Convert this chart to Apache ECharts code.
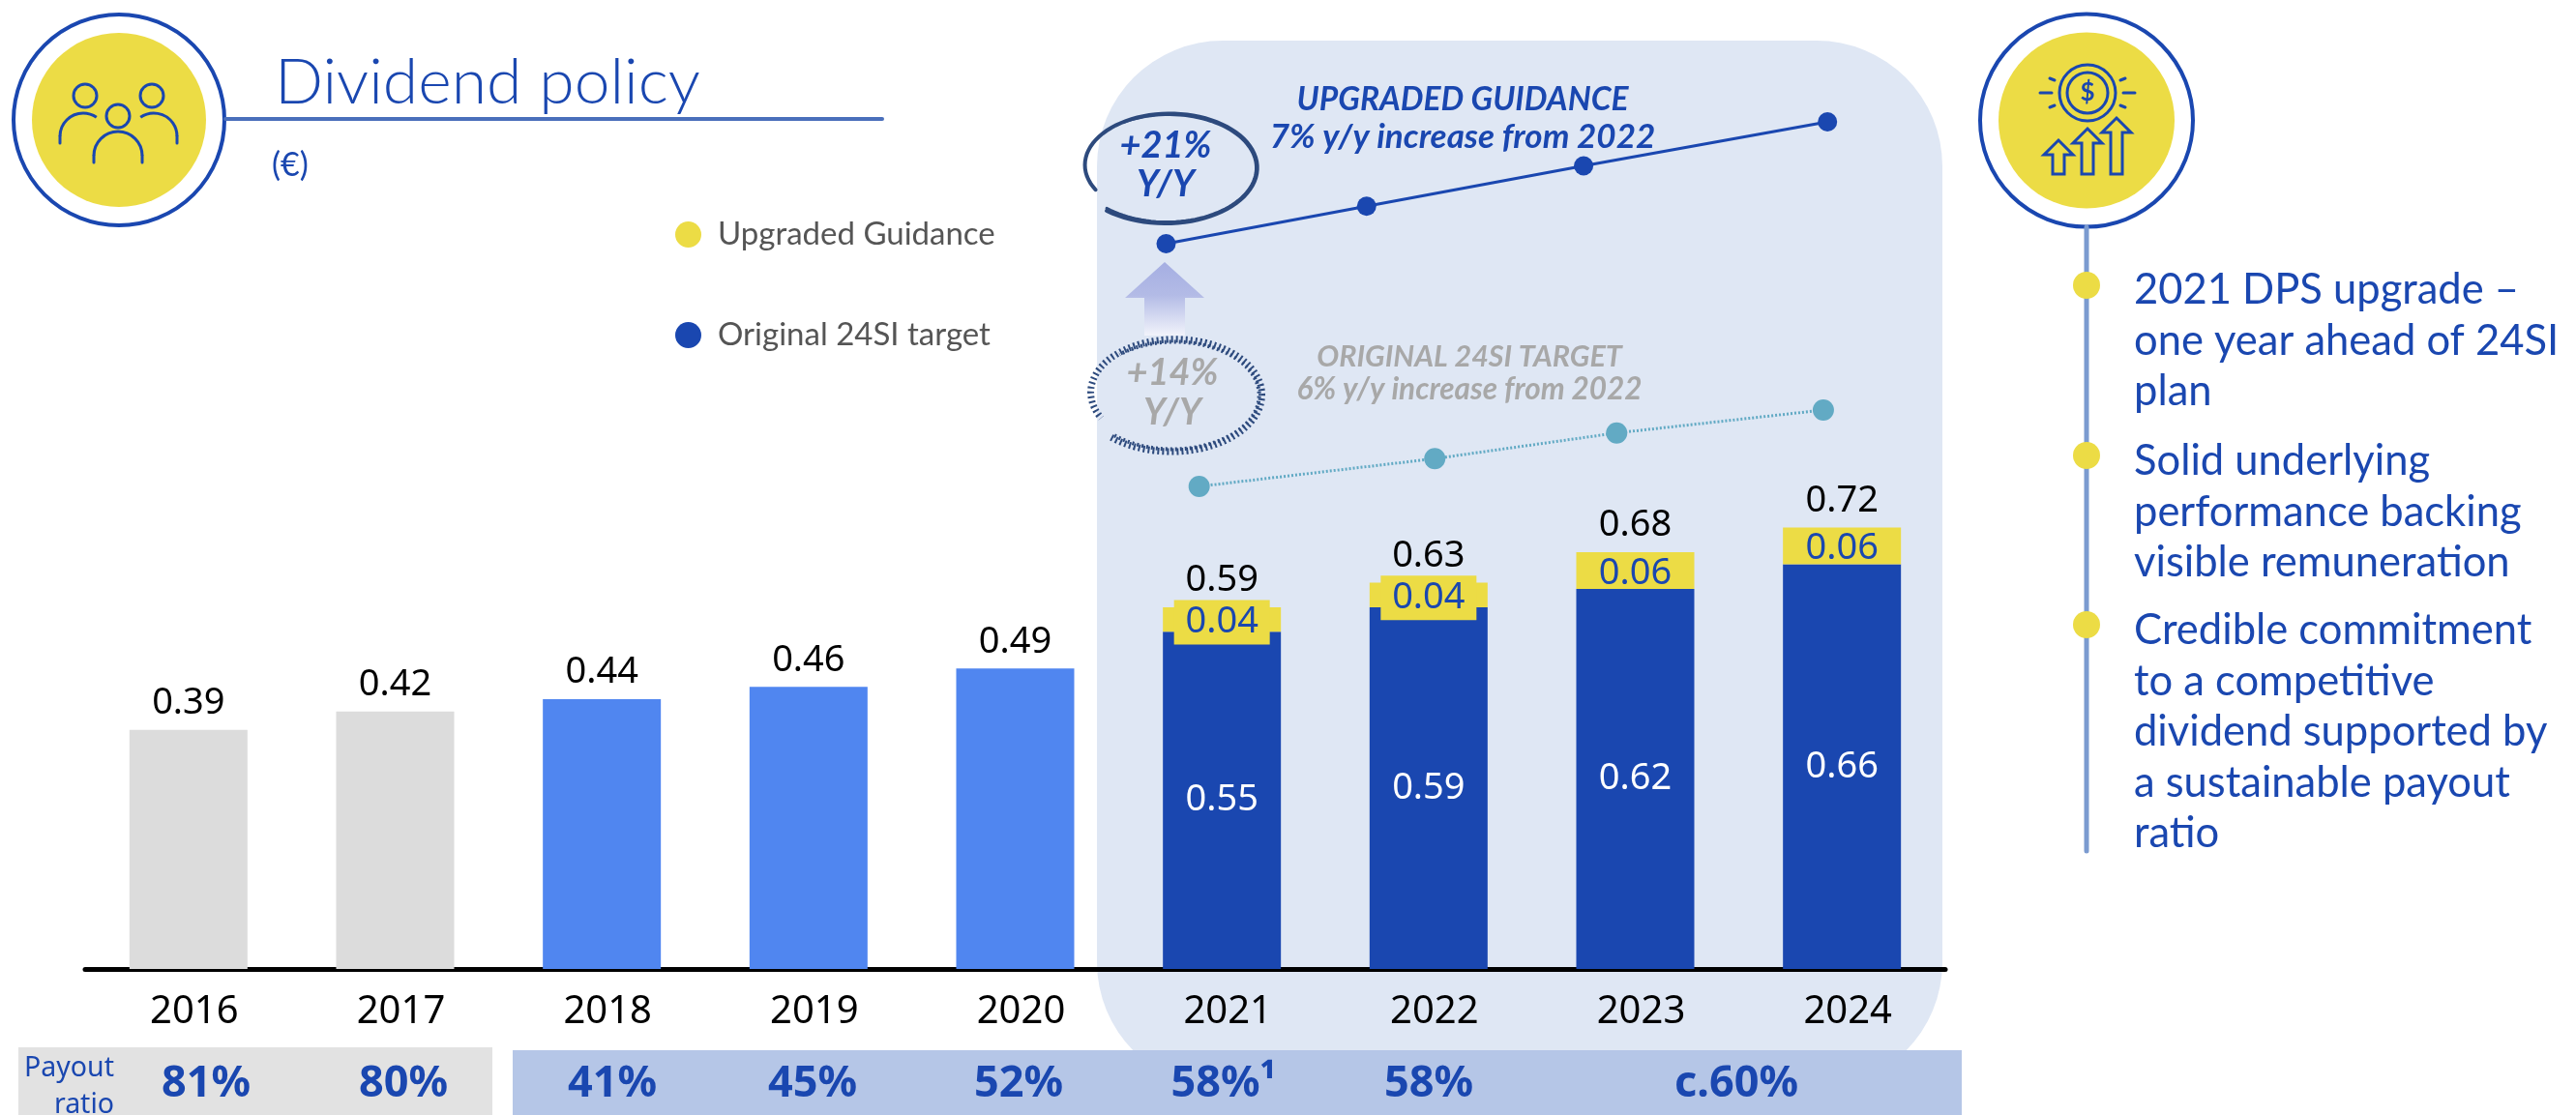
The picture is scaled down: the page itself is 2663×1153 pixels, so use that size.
<!DOCTYPE html>
<html lang="en">
  <head>
    <meta charset="UTF-8" />
    <title>Dividend policy</title>
    <script src="https://cdn.jsdelivr.net/npm/echarts@6/dist/echarts.min.js"></script>
    <style>
      body { margin: 0; background: #fff; }
      #box { width: 2663px; height: 1153px; }
    </style>
  </head>
  <body>
    <div id="box"></div>
    <script>
      // chart values
      const years = ['2016', '2017', '2018', '2019', '2020', '2021', '2022', '2023', '2024'];
      const baseDps = [0.39, 0.42, 0.44, 0.46, 0.49, 0.55, 0.59, 0.62, 0.66];
      const upgradeDps = [null, null, null, null, null, 0.04, 0.04, 0.06, 0.06];
      const totalDps = [0.39, 0.42, 0.44, 0.46, 0.49, 0.59, 0.63, 0.68, 0.72];
      const payoutLabels = ['81%', '80%', '41%', '45%', '52%', '58%¹', '58%', 'c.60%'];
      // the two small lines sit a bit off the bar centres, so they get their own year position
      const upgradedYears = [2020.73, 2021.7, 2022.75, 2023.93];
      const upgradedValues = [0.59, 0.63, 0.673, 0.72];
      const originalYears = [2020.89, 2022.03, 2022.91, 2023.91];
      const originalValues = [0.55, 0.59, 0.627, 0.66];
      const bullets = [
        ['2021 DPS upgrade –', 'one year ahead of 24SI', 'plan'],
        ['Solid underlying', 'performance backing', 'visible remuneration'],
        ['Credible commitment', 'to a competitive', 'dividend supported by', 'a sustainable payout', 'ratio']
      ];

      const BLUE = '#1a47b0', YELLOW = '#ecdc45', MID = '#5086f0', GREY = '#dcdcdc';
      const FONT = 'Lato', NUM = '"Noto Sans"';

      function txt(x, y, text, size, color, extra) {
        return {
          type: 'text', x: x, y: y, z: 5,
          style: Object.assign({
            text: text, fontSize: size, fill: color, fontFamily: FONT,
            align: 'center', verticalAlign: 'middle'
          }, extra || {})
        };
      }
      function circle(x, y, r, fill, stroke, lw, z) {
        return {
          type: 'circle', z: z === undefined ? 1 : z, shape: { cx: x, cy: y, r: r },
          style: { fill: fill || 'none', stroke: stroke || 'none', lineWidth: lw || 0 }
        };
      }
      function line(x1, y1, x2, y2, color, lw) {
        return {
          type: 'line', z: 2, shape: { x1: x1, y1: y1, x2: x2, y2: y2 },
          style: { stroke: color, lineWidth: lw, lineCap: 'round' }
        };
      }
      function arc(x, y, r, a0, a1, lw) {
        return {
          type: 'arc', z: 2, shape: { cx: x, cy: y, r: r, startAngle: a0 * Math.PI / 180, endAngle: a1 * Math.PI / 180, clockwise: true },
          style: { fill: 'none', stroke: BLUE, lineWidth: lw || 3 }
        };
      }
      // hand drawn ring around the +21% / +14% tags
      function swirl(cx, cy, rx, ry, a0, a1, shrink, color, lw, dash) {
        let pts = [];
        for (let i = 0; i <= 80; i++) {
          let t = i / 80, a = (a0 + (a1 - a0) * t) * Math.PI / 180, k = 1 - shrink * t;
          pts.push([cx + rx * k * Math.cos(a), cy + ry * k * Math.sin(a)]);
        }
        return {
          type: 'polyline', z: 4, shape: { points: pts },
          style: { fill: 'none', stroke: color, lineWidth: lw, lineDash: dash || null, lineCap: dash ? 'butt' : 'round' }
        };
      }
      function upArrow(x, top, bottom) {
        let pts = [[x, top], [x + 15, top + 15], [x + 6, top + 15], [x + 6, bottom], [x - 6, bottom], [x - 6, top + 15], [x - 15, top + 15]];
        return { type: 'polygon', z: 2, shape: { points: pts }, style: { fill: 'none', stroke: BLUE, lineWidth: 3 } };
      }

      let g = [];
      // shaded panel and payout bands
      g.push({ type: 'rect', z: -2, shape: { x: 1134, y: 42, width: 874, height: 1083, r: 130 }, style: { fill: '#dfe7f4' } });
      g.push({ type: 'rect', z: -1, shape: { x: 19, y: 1083, width: 490, height: 70 }, style: { fill: '#e2e2e2' } });
      g.push({ type: 'rect', z: -1, shape: { x: 530, y: 1086, width: 1498, height: 67 }, style: { fill: '#b5c6e7' } });

      // title block
      g.push(circle(123, 124, 109, '#fff', BLUE, 4));
      g.push(circle(123, 124, 90, YELLOW));
      g.push(line(233, 123, 912, 123, '#4a6fbb', 4));
      g.push(txt(284, 86, 'Dividend policy', 66, BLUE, { align: 'left', fontWeight: 300 }));
      g.push(txt(281, 171, '(€)', 34, BLUE, { align: 'left' }));
      // people icon
      [[88, 99, 12], [157, 99, 12], [122, 120, 12]].forEach(function (h) {
        g.push(circle(h[0], h[1], h[2], 'none', BLUE, 3, 2));
      });
      g.push(arc(86, 141, 24, 180, 305));
      g.push(arc(159, 141, 24, 235, 360));
      g.push(arc(122, 161, 25, 180, 360));
      g.push(line(62, 141, 62, 148, BLUE, 3), line(183, 141, 183, 148, BLUE, 3));
      g.push(line(97, 161, 97, 168, BLUE, 3), line(147, 161, 147, 168, BLUE, 3));

      // right column
      g.push(line(2157, 235, 2157, 880, '#7b9bd0', 5));
      g.push(circle(2157, 124.5, 110, '#fff', BLUE, 4));
      g.push(circle(2157, 124.5, 91, YELLOW));
      g.push(circle(2158, 96, 29, 'none', BLUE, 3, 2), circle(2158, 96, 21, 'none', BLUE, 3, 2));
      g.push(txt(2158, 96, '$', 26, BLUE, { fontWeight: 'bold' }));
      g.push(line(2109, 96, 2121, 96, BLUE, 3), line(2195, 96, 2207, 96, BLUE, 3));
      g.push(line(2119, 81, 2124, 83, BLUE, 3), line(2192, 83, 2197, 81, BLUE, 3));
      g.push(line(2119, 111, 2124, 109, BLUE, 3), line(2192, 109, 2197, 111, BLUE, 3));
      g.push(upArrow(2128, 145, 180), upArrow(2158, 133, 180), upArrow(2188, 122, 180));
      let rowY = [300, 477, 652];
      bullets.forEach(function (rows, i) {
        g.push(circle(2157, [295, 471, 646][i], 14, YELLOW, null, 0, 2));
        rows.forEach(function (r, j) {
          g.push(txt(2206, rowY[i] + j * 52.5, r, 43.5, BLUE, { align: 'left' }));
        });
      });

      // annotations over the two lines
      let bi = { fontWeight: 'bold', fontStyle: 'italic' };
      g.push(txt(1512, 103, 'UPGRADED GUIDANCE', 33.5, BLUE, bi));
      g.push(txt(1512, 142, '7% y/y increase from 2022', 35, BLUE, bi));
      g.push(txt(1205, 151, '+21%', 38, BLUE, bi));
      g.push(txt(1205, 191, 'Y/Y', 38, BLUE, bi));
      g.push(swirl(1207, 172, 98, 60, 130, -208, 0.14, '#2d4a7d', 4));
      g.push(swirl(1207, 173, 94, 57, 132, -120, 0.05, '#2d4a7d', 3));
      g.push(txt(1519, 369, 'ORIGINAL 24SI TARGET', 30.5, '#a8a8a8', bi));
      g.push(txt(1519, 403, '6% y/y increase from 2022', 31.5, '#a8a8a8', bi));
      g.push(txt(1212, 386, '+14%', 38, '#a8a8a8', bi));
      g.push(txt(1212, 427, 'Y/Y', 38, '#a8a8a8', bi));
      g.push(swirl(1213, 407, 96, 61, 132, -208, 0.12, '#2d4a7d', 7, [2, 3]));
      g.push(swirl(1213, 408, 91, 57, 132, -130, 0.05, '#2d4a7d', 4, [2, 3]));
      g.push({
        type: 'polygon', z: 3,
        shape: { points: [[1204, 271], [1245, 308], [1225, 308], [1225, 347], [1183, 347], [1183, 308], [1163, 308]] },
        style: { fill: new echarts.graphic.LinearGradient(0, 0, 0, 1, [
          { offset: 0, color: '#a5aee2' }, { offset: 0.45, color: '#b3bbe6' }, { offset: 1, color: '#f1f3fb' }
        ]) }
      });

      // payout row
      let payoutX = [213, 417, 633, 840, 1053, 1265, 1477, 1795];
      payoutLabels.forEach(function (p, i) {
        g.push(txt(payoutX[i], 1121, p, 45, BLUE, { fontWeight: 'bold', fontFamily: NUM }));
      });
      g.push(txt(118, 1105, 'Payout', 28.5, BLUE, { align: 'right', fontFamily: NUM }));
      g.push(txt(118, 1143, 'ratio', 28.5, BLUE, { align: 'right', fontFamily: NUM }));

      function pairs(xs, ys) {
        return xs.map(function (x, i) { return [x, ys[i]]; });
      }
      function two(p) {
        return p.value.toFixed(2);
      }
      let hiddenYear = { type: 'value', min: 2015.5, max: 2024.5, show: false };

      let option = {
        animation: false,
        backgroundColor: '#fff',
        graphic: { elements: g },
        legend: {
          orient: 'vertical', left: 693, top: 221, itemWidth: 27, itemHeight: 27, itemGap: 71,
          icon: 'circle', selectedMode: false,
          textStyle: { fontFamily: FONT, fontSize: 33, color: '#555', padding: [0, 0, 0, 12] },
          data: [
            { name: 'Upgraded Guidance', itemStyle: { color: YELLOW } },
            { name: 'Original 24SI target', itemStyle: { color: BLUE } }
          ]
        },
        grid: [
          { left: 88, right: 652, top: 368, bottom: 151 },
          { left: 88, right: 652, top: 126, height: 126 },
          { left: 88, right: 652, top: 424, height: 79 }
        ],
        xAxis: [
          {
            type: 'category', data: years, gridIndex: 0,
            axisTick: { show: false },
            axisLine: { lineStyle: { color: '#000', width: 5 } },
            axisLabel: { fontFamily: NUM, fontSize: 40, color: '#000', margin: 25, padding: [0, 0, 0, 12] }
          },
          Object.assign({ gridIndex: 1 }, hiddenYear),
          Object.assign({ gridIndex: 2 }, hiddenYear)
        ],
        yAxis: [
          { type: 'value', min: 0, max: 1, show: false, gridIndex: 0 },
          { type: 'value', min: 0.59, max: 0.72, show: false, gridIndex: 1 },
          { type: 'value', min: 0.55, max: 0.66, show: false, gridIndex: 2 }
        ],
        series: [
          {
            name: 'Original 24SI target', type: 'bar', stack: 'dps', barWidth: 122,
            data: baseDps.map(function (v, i) {
              let color = i < 2 ? GREY : i < 5 ? MID : BLUE;
              return { value: v, itemStyle: { color: color }, label: { show: i >= 5 } };
            }),
            label: { position: 'inside', color: '#fff', fontFamily: NUM, fontSize: 38, formatter: two }
          },
          {
            name: 'Upgraded Guidance', type: 'bar', stack: 'dps', barWidth: 122,
            itemStyle: { color: YELLOW },
            data: upgradeDps.map(function (v, i) {
              // the first two labels carry a yellow box that spills past the thin segment
              if (i === 5 || i === 6) {
                return { value: v, label: { backgroundColor: YELLOW, width: 99, height: 46, lineHeight: 46, align: 'center' } };
              }
              return v;
            }),
            label: { show: true, position: 'inside', offset: [0, 3], color: BLUE, fontFamily: NUM, fontSize: 38, formatter: two }
          },
          {
            name: 'Total', type: 'line', symbol: 'circle', symbolSize: 1, z: 6,
            itemStyle: { color: 'transparent' },
            lineStyle: { opacity: 0 }, data: totalDps,
            label: { show: true, position: 'top', distance: 8, color: '#000', fontFamily: NUM, fontSize: 38, formatter: two }
          },
          {
            name: 'Upgraded line', type: 'line', xAxisIndex: 1, yAxisIndex: 1, clip: false,
            symbol: 'circle', symbolSize: 20, data: pairs(upgradedYears, upgradedValues),
            itemStyle: { color: BLUE }, lineStyle: { color: BLUE, width: 3 }
          },
          {
            name: 'Original line', type: 'line', xAxisIndex: 2, yAxisIndex: 2, clip: false,
            symbol: 'circle', symbolSize: 22, data: pairs(originalYears, originalValues),
            itemStyle: { color: '#62aac4' }, lineStyle: { color: '#62aac4', width: 3, type: [2, 2] }
          }
        ]
      };

      let myChart = echarts.init(document.getElementById('box'));
      myChart.setOption(option);
    </script>
  </body>
</html>
